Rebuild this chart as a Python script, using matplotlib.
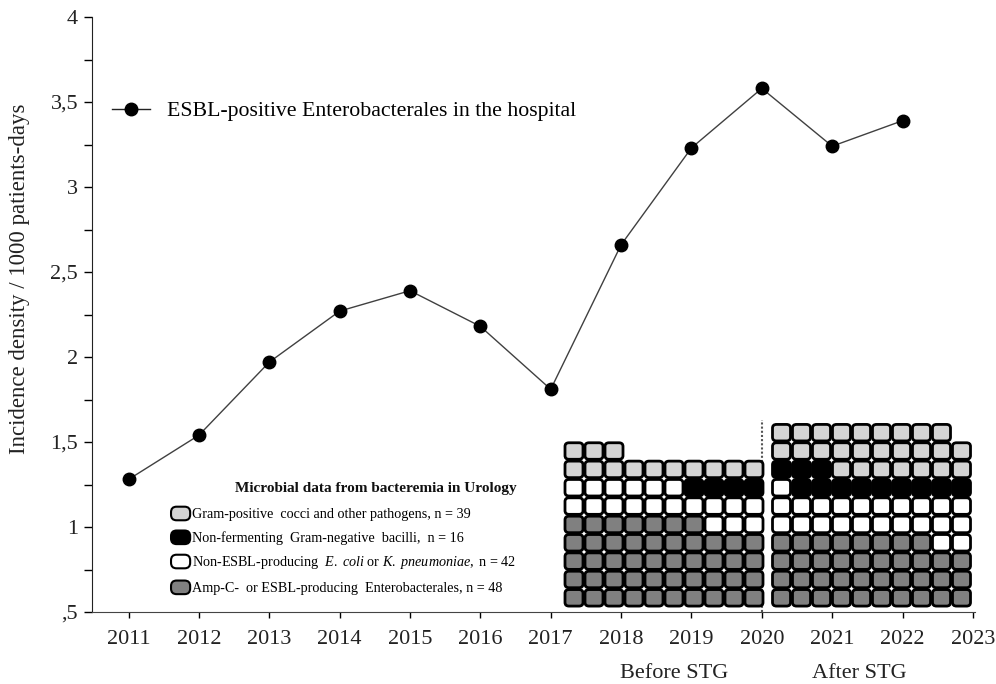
import matplotlib
matplotlib.use('Agg')
import matplotlib.pyplot as plt
import matplotlib.transforms as mtransforms
from matplotlib.patches import FancyBboxPatch, Patch
from matplotlib.legend_handler import HandlerPatch
from matplotlib.lines import Line2D

plt.rcParams['font.family'] = ['Liberation Serif', 'DejaVu Serif']
plt.rcParams['mathtext.fontset'] = 'custom'
plt.rcParams['mathtext.it'] = 'Liberation Serif:italic'
plt.rcParams['mathtext.rm'] = 'Liberation Serif'

# Incidence density of ESBL-positive Enterobacterales in the hospital
years = [2011, 2012, 2013, 2014, 2015, 2016, 2017, 2018, 2019, 2020, 2021, 2022]
incidence = [1.28, 1.54, 1.97, 2.27, 2.39, 2.18, 1.81, 2.66, 3.23, 3.58, 3.24, 3.39]

x_ticks = list(range(2011, 2024))
x_tick_labels = [str(y) for y in x_ticks]
y_ticks = [0.5, 1, 1.5, 2, 2.5, 3, 3.5, 4]
y_tick_labels = [',5', '1', '1,5', '2', '2,5', '3', '3,5', '4']

# waffle grids (top row first); G = gram-positive, B = non-fermenting,
# W = non-ESBL E. coli / K. pneumoniae, D = AmpC / ESBL Enterobacterales
before_grid = [
    'GGG',
    'GGGGGGGGGG',
    'WWWWWWBBBB',
    'WWWWWWWWWW',
    'DDDDDDDWWW',
    'DDDDDDDDDD',
    'DDDDDDDDDD',
    'DDDDDDDDDD',
    'DDDDDDDDDD',
]
after_grid = [
    'GGGGGGGGG',
    'GGGGGGGGGG',
    'BBBGGGGGGG',
    'WBBBBBBBBB',
    'WWWWWWWWWW',
    'WWWWWWWWWW',
    'DDDDDDDDWW',
    'DDDDDDDDDD',
    'DDDDDDDDDD',
    'DDDDDDDDDD',
]
cell_colors = {'G': '#d4d4d4', 'B': '#000000', 'W': '#ffffff', 'D': '#808080'}

legend_codes = ['G', 'B', 'W', 'D']
legend_labels = [
    'Gram-positive  cocci and other pathogens, n = 39',
    'Non-fermenting  Gram-negative  bacilli,  n = 16',
    'Non-ESBL-producing  $\\it{E.\\ coli}$ or $\\it{K.\\ pneumoniae,}$ n = 42',
    'Amp-C-  or ESBL-producing  Enterobacterales, n = 48',
]

W, H = 996, 684
FS = 16
fig = plt.figure(figsize=(W / 100, H / 100), dpi=100)
ax = fig.add_axes([92 / W, (H - 612) / H, 883 / W, 595 / H])

ax.plot(years, incidence, color='#404040', lw=1, marker='o', ms=9,
        mfc='black', mec='black', zorder=3)

ax.set_xlim(2010.48, 2023.03)
ax.set_ylim(0.5, 4)
ax.set_xticks(x_ticks)
ax.set_xticklabels(x_tick_labels, fontsize=FS, color='#222222')
ax.set_yticks(y_ticks)
ax.set_yticklabels(y_tick_labels, fontsize=FS, color='#222222')
ax.set_yticks([0.75, 1.25, 1.75, 2.25, 2.75, 3.25, 3.75], minor=True)
ax.tick_params(axis='x', direction='out', length=4, width=1, pad=9)
ax.tick_params(axis='y', which='major', direction='out', length=6, width=1, pad=4)
ax.tick_params(axis='y', which='minor', direction='out', length=6, width=1)
for s in ['top', 'right']:
    ax.spines[s].set_visible(False)
ax.spines['left'].set_color('#222222')
ax.spines['bottom'].set_color('#444444')

ax.set_ylabel('Incidence density / 1000 patients-days', fontsize=16.5, color='#222222')
ax.yaxis.set_label_coords(-0.07, 0.56)

# before / after STG separator
ax.axvline(2020, ymin=0, ymax=(1.63 - 0.5) / 3.5, color='#555555',
           linestyle=(0, (1, 1)), lw=1.5, zorder=1)
trans = mtransforms.blended_transform_factory(ax.transData, ax.transAxes)
ax.text(2018.76, -0.104, 'Before STG', transform=trans, ha='center',
        va='center', fontsize=FS, color='#222222')
ax.text(2021.39, -0.104, 'After STG', transform=trans, ha='center',
        va='center', fontsize=FS, color='#222222')

# legend for line
leg1 = ax.legend(handles=[Line2D([], [], color='#222222', lw=1, marker='o', ms=9,
                                 mfc='black', mec='black')],
                 labels=['ESBL-positive Enterobacterales in the hospital'],
                 loc='center left', bbox_to_anchor=(0.0227, 0.8415),
                 frameon=False, fontsize=15.7, handlelength=1.75,
                 handletextpad=0.75, borderpad=0, borderaxespad=0)
ax.add_artist(leg1)


def rounded_box(legend, orig_handle, xdescent, ydescent, width, height, fontsize):
    return FancyBboxPatch((-xdescent, -ydescent), width, height,
                          boxstyle='round,pad=0,rounding_size=4')


ax.text(0.162, 0.2084, 'Microbial data from bacteremia in Urology', transform=ax.transAxes,
        ha='left', va='center', fontsize=11, fontweight='bold', color='#111111')

handles = [Patch(facecolor=cell_colors[c], edgecolor='black', lw=1.5) for c in legend_codes]
leg2 = ax.legend(handles=handles, labels=legend_labels, loc='upper left',
                 bbox_to_anchor=(0.0895, 0.177), frameon=False, fontsize=10.2,
                 handlelength=1.35, handleheight=1.1, handletextpad=0.12,
                 labelspacing=0.65, borderpad=0, borderaxespad=0,
                 handler_map={Patch: HandlerPatch(patch_func=rounded_box)})


def draw_waffle(left_px, grid):
    nrows = len(grid)
    pitch_y = 18.35
    wax = fig.add_axes([left_px / W, (H - 607) / H, 200 / W, nrows * pitch_y / H])
    wax.set_xlim(0, 10)
    wax.set_ylim(0, nrows)
    wax.axis('off')
    gap = 0.1
    for r, row in enumerate(grid):
        yb = nrows - 1 - r
        for c, code in enumerate(row):
            wax.add_patch(FancyBboxPatch((c + gap / 2, yb + gap / 2), 1 - gap, 1 - gap,
                                         boxstyle='round,pad=0,rounding_size=0.2',
                                         facecolor=cell_colors[code],
                                         edgecolor='black', lw=2.0,
                                         clip_on=False))


draw_waffle(564, before_grid)
draw_waffle(771.5, after_grid)

fig.savefig('out.png', dpi=100)
